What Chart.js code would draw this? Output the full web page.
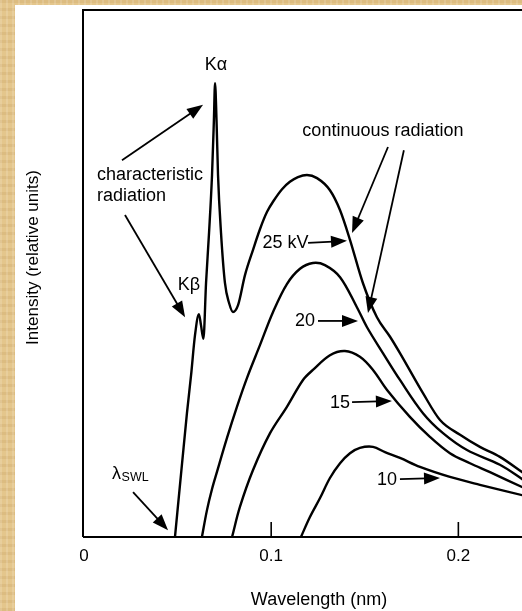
<!DOCTYPE html>
<html>
<head>
<meta charset="utf-8">
<title>X-ray spectrum</title>
<script src="https://cdn.jsdelivr.net/npm/chart.js@4.4.1/dist/chart.umd.min.js"></script>
<style>
  html, body { margin: 0; padding: 0; width: 522px; height: 611px; overflow: hidden; }
  body {
    background-color: #e4c68c;
    background-image:
      repeating-linear-gradient(90deg, rgba(255,255,255,0.14) 0 2px, rgba(0,0,0,0) 2px 6px),
      repeating-linear-gradient(0deg, rgba(150,100,30,0.10) 0 3px, rgba(0,0,0,0) 3px 8px);
  }
  #panel { position: absolute; left: 15px; top: 5px; width: 507px; height: 606px; background: #fff; }
  #panel canvas { display: block; }
</style>
</head>
<body>
<div id="panel"><canvas id="myChart_xray" width="507" height="606"></canvas></div>
<script>
  "use strict";

  // wavelength (nm) / intensity (relative units, 0..100)
  const wl25 = [0.0486, 0.0524, 0.0550, 0.0572, 0.0593, 0.0614, 0.0625, 0.0638, 0.0652, 0.0668, 0.0684, 0.0694,
    0.0700, 0.0708, 0.0716, 0.0732, 0.0753, 0.0775, 0.0796, 0.0823, 0.0860, 0.0903, 0.0940, 0.0978, 0.1015,
    0.1058, 0.1100, 0.1143, 0.1191, 0.1245, 0.1314, 0.1368, 0.1421, 0.1490, 0.1565, 0.1635, 0.1688, 0.1811,
    0.1902, 0.2009, 0.2115, 0.2222, 0.2345];
  const int25 = [0, 14.0, 23.5, 30.7, 38.3, 42.3, 40.2, 37.6, 48.2, 57.7, 68.7, 79.1,
    86.1, 79.1, 68.7, 57.7, 48.2, 44.4, 42.7, 44.0, 49.7, 54.5, 58.4, 61.7, 63.9,
    66.0, 67.4, 68.3, 68.7, 68.1, 65.8, 62.0, 56.4, 48.2, 41.7, 38.0, 34.9, 27.3,
    22.2, 19.4, 17.1, 15.2, 12.2];

  const wl20 = [0.0630, 0.0657, 0.0684, 0.0710, 0.0764, 0.0817, 0.0871, 0.0940, 0.1010, 0.1084, 0.1154,
    0.1223, 0.1287, 0.1368, 0.1458, 0.1512, 0.1597, 0.1688, 0.1811, 0.1918, 0.2046, 0.2222, 0.2345];
  const int20 = [0, 5.1, 9.1, 12.3, 18.8, 24.7, 30.2, 36.4, 42.7, 48.0, 50.9,
    52.0, 51.6, 49.3, 43.6, 39.8, 34.9, 29.8, 23.5, 19.7, 16.5, 13.7, 10.9];

  const wl15 = [0.0791, 0.0833, 0.0903, 0.0994, 0.1084, 0.1170, 0.1223, 0.1314, 0.1394, 0.1474, 0.1544,
    0.1619, 0.1741, 0.1848, 0.1955, 0.2062, 0.2169, 0.2345];
  const int15 = [0, 5.7, 12.7, 19.7, 24.7, 29.8, 31.7, 34.5, 35.3, 34.2, 31.7,
    27.9, 22.8, 19.0, 15.9, 14.0, 12.3, 9.4];

  const wl10 = [0.1159, 0.1207, 0.1261, 0.1314, 0.1368, 0.1421, 0.1474, 0.1544, 0.1608, 0.1688, 0.1795,
    0.1955, 0.2115, 0.2345];
  const int10 = [0, 3.8, 7.4, 11.2, 14.0, 15.9, 16.9, 17.1, 16.1, 15.0, 13.3,
    11.4, 9.9, 7.9];

  const xTicks = [0, 0.1, 0.2];
  const xTickLabels = ['0', '0.1', '0.2'];

  // labels and arrows, in (wavelength, intensity) coordinates
  const notes = [
    { text: 'K\u03b1', x: 0.0705, y: 89.6, align: 'center' },
    { text: 'characteristic', x: 0.0069, y: 68.7, align: 'left' },
    { text: 'radiation', x: 0.0069, y: 64.7, align: 'left' },
    { text: 'K\u03b2', x: 0.0561, y: 47.8, align: 'center' },
    { text: 'continuous radiation', x: 0.1597, y: 77.0, align: 'center' },
    { text: '25 kV', x: 0.1199, y: 55.8, align: 'right' },
    { text: '20', x: 0.1234, y: 41.0, align: 'right' },
    { text: '15', x: 0.1421, y: 25.4, align: 'right' },
    { text: '10', x: 0.1672, y: 10.8, align: 'right' }
  ];
  const arrows = [
    [0.0203, 71.5, 0.0636, 82.0],
    [0.0219, 61.1, 0.0540, 41.7],
    [0.1624, 74.0, 0.1432, 57.7],
    [0.1709, 73.4, 0.1517, 42.5],
    [0.1197, 55.8, 0.1405, 56.2],
    [0.1250, 41.0, 0.1464, 41.0],
    [0.1432, 25.6, 0.1645, 25.8],
    [0.1688, 11.0, 0.1902, 11.2],
    [0.0262, 8.5, 0.0449, 1.3]
  ];

  const FONT = '"Liberation Sans", Arial, Helvetica, sans-serif';

  function points(xs, ys) {
    return xs.map((x, i) => ({ x: x, y: ys[i] }));
  }

  function arrow(ctx, x1, y1, x2, y2) {
    const ang = Math.atan2(y2 - y1, x2 - x1);
    const len = 16, half = 6;
    const bx = x2 - len * Math.cos(ang), by = y2 - len * Math.sin(ang);
    ctx.beginPath();
    ctx.moveTo(x1, y1);
    ctx.lineTo(bx + 2 * Math.cos(ang), by + 2 * Math.sin(ang));
    ctx.stroke();
    ctx.beginPath();
    ctx.moveTo(x2, y2);
    ctx.lineTo(bx - half * Math.sin(ang), by + half * Math.cos(ang));
    ctx.lineTo(bx + half * Math.sin(ang), by - half * Math.cos(ang));
    ctx.closePath();
    ctx.fill();
  }

  const figurePlugin = {
    id: 'figure',
    afterDraw(chart) {
      const ctx = chart.ctx;
      const area = chart.chartArea;
      const sx = chart.scales.x, sy = chart.scales.y;
      ctx.save();
      ctx.strokeStyle = '#000';
      ctx.fillStyle = '#000';

      // frame: top and left
      ctx.lineWidth = 2;
      ctx.beginPath();
      ctx.moveTo(area.left - 2, area.top);
      ctx.lineTo(area.right, area.top);
      ctx.moveTo(area.left - 1, area.top);
      ctx.lineTo(area.left - 1, area.bottom);
      ctx.stroke();

      // inward tick marks
      ctx.lineWidth = 1.6;
      xTicks.forEach(v => {
        if (v === 0) return;
        const px = sx.getPixelForValue(v);
        ctx.beginPath();
        ctx.moveTo(px, area.bottom);
        ctx.lineTo(px, area.bottom - 15);
        ctx.stroke();
      });

      // axis titles
      ctx.font = '18px ' + FONT;
      ctx.textAlign = 'center';
      ctx.textBaseline = 'middle';
      ctx.fillText('Wavelength (nm)', (area.left + area.right) / 2 + 16, area.bottom + 63);
      ctx.save();
      ctx.translate(18, (area.top + area.bottom) / 2 - 16);
      ctx.rotate(-Math.PI / 2);
      ctx.font = '17px ' + FONT;
      ctx.fillText('Intensity (relative units)', 0, 0);
      ctx.restore();

      // annotations
      ctx.font = '18px ' + FONT;
      notes.forEach(n => {
        ctx.textAlign = n.align;
        ctx.fillText(n.text, sx.getPixelForValue(n.x), sy.getPixelForValue(n.y));
      });
      const lx = sx.getPixelForValue(0.0150), ly = sy.getPixelForValue(12.0);
      ctx.textAlign = 'left';
      ctx.fillText('\u03bb', lx, ly);
      const lw = ctx.measureText('\u03bb').width;
      ctx.font = '12.5px ' + FONT;
      ctx.fillText('SWL', lx + lw + 0.5, ly + 4);

      ctx.lineWidth = 1.8;
      arrows.forEach(a => {
        arrow(ctx, sx.getPixelForValue(a[0]), sy.getPixelForValue(a[1]),
          sx.getPixelForValue(a[2]), sy.getPixelForValue(a[3]));
      });
      ctx.restore();
    }
  };

  Chart.defaults.font.family = FONT;
  Chart.defaults.color = '#000';

  const data_xray = {
    datasets: [
      { label: '25 kV', data: points(wl25, int25), cubicInterpolationMode: 'monotone' },
      { label: '20 kV', data: points(wl20, int20), tension: 0.35 },
      { label: '15 kV', data: points(wl15, int15), tension: 0.35 },
      { label: '10 kV', data: points(wl10, int10), tension: 0.35 }
    ]
  };

  const config_xray = {
    type: 'line',
    data: data_xray,
    options: {
      responsive: false,
      animation: false,
      devicePixelRatio: 1,
      layout: { padding: { left: 69, top: 5, right: 0, bottom: 0 } },
      elements: {
        point: { radius: 0 },
        line: { borderColor: '#000', borderWidth: 2.4, fill: false }
      },
      scales: {
        x: {
          type: 'linear',
          min: 0,
          max: 0.234,
          afterBuildTicks: function (scale) {
            scale.ticks = xTicks.map(v => ({ value: v }));
          },
          afterFit: function (scale) {
            scale.height = 74;
          },
          ticks: {
            font: { size: 17 },
            padding: 9,
            maxRotation: 0,
            callback: function (value) {
              const i = xTicks.indexOf(value);
              return i >= 0 ? xTickLabels[i] : '';
            }
          },
          grid: { display: false, drawTicks: false },
          border: { display: true, color: '#000', width: 2 }
        },
        y: {
          type: 'linear',
          min: 0,
          max: 100,
          display: false
        }
      },
      plugins: {
        legend: { display: false },
        tooltip: { enabled: false },
        title: { display: false, text: 'X-ray spectrum' }
      }
    },
    plugins: [figurePlugin]
  };

  const ctx_xray = document.getElementById('myChart_xray');
  const myChart_xray = new Chart(ctx_xray, config_xray);
</script>
</body>
</html>
